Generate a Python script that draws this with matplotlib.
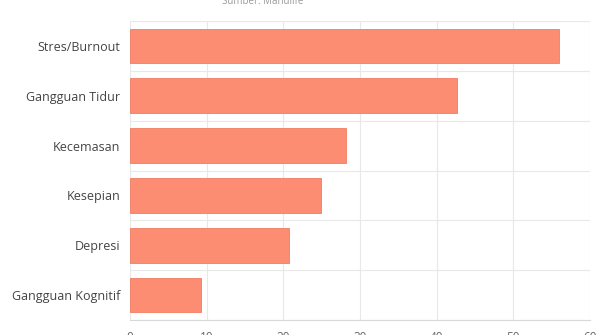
import matplotlib
matplotlib.use('Agg')
import matplotlib.pyplot as plt
import numpy as np

# data
kategori = ['Stres/Burnout', 'Gangguan Tidur', 'Kecemasan', 'Kesepian', 'Depresi', 'Gangguan Kognitif']
nilai = [55.9, 42.6, 28.2, 24.9, 20.7, 9.2]
xticks = [0, 10, 20, 30, 40, 50, 60]

plt.rcParams['font.family'] = ['Open Sans', 'DejaVu Sans']

fig = plt.figure(figsize=(6, 3.35), dpi=100)
ax = fig.add_axes([0.2167, 0.045, 0.7666, 0.892])

y = np.arange(len(kategori))
ax.barh(y, nilai, height=0.7, color='#FC8D72', edgecolor='#F07D62', linewidth=0.6, zorder=3)

ax.set_xlim(0, 60)
ax.set_ylim(len(kategori) - 0.5, -0.5)
ax.set_xticks(xticks)
ax.set_yticks(y)
ax.set_yticklabels(kategori, fontsize=9, color='#444444')
ax.tick_params(axis='x', labelsize=8.5, labelcolor='#666666', length=0, pad=8)
ax.tick_params(axis='y', length=0, pad=7)

# grid
ax.set_yticks(np.arange(-0.5, len(kategori), 1), minor=True)
ax.grid(axis='x', color='#e8e8e8', linewidth=0.8, zorder=0)
ax.grid(axis='y', which='minor', color='#e8e8e8', linewidth=0.8, zorder=0)
ax.tick_params(axis='y', which='minor', length=0)
for s in ['top', 'right', 'left']:
    ax.spines[s].set_visible(False)
ax.spines['bottom'].set_color('#d8d8d8')

fig.text(0.437, 0.995, 'Sumber: Manulife', ha='center', va='center', fontsize=7, color='#999999')

fig.savefig('out.png', dpi=100)
